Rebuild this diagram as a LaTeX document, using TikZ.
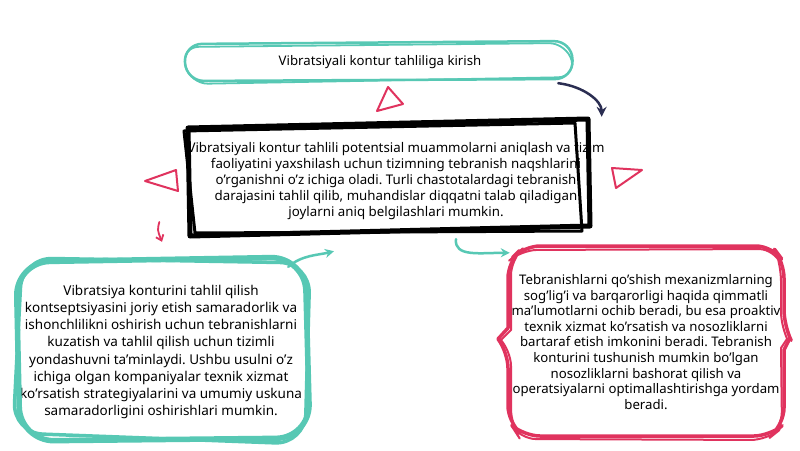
\documentclass[tikz,border=0pt]{standalone}
\usepackage{fontspec}
\setmainfont{Noto Sans}
\usetikzlibrary{arrows.meta}
\frenchspacing

\definecolor{seagreen}{HTML}{57C8B4}
\definecolor{crimsonpen}{HTML}{E0335E}
\definecolor{navyink}{HTML}{2B2E52}

\tikzset{
  boxtext/.style={inner sep=0pt, align=center, font=\fontsize{13.3}{16.2}\selectfont},
  tealpen/.style={draw=seagreen, line width=2.5pt, line join=round},
  tealfat/.style={draw=seagreen, line width=5.5pt, line join=round},
  redpen/.style={draw=crimsonpen, line width=3.5pt, line join=round},
  inkpen/.style={draw=black, line width=5pt, line join=round},
  mark tri/.style={draw=crimsonpen, line width=2pt, line join=round},
  tealarrow/.style={draw=seagreen, line width=2.5pt, line cap=round, -{Stealth[length=9pt,width=9pt]}},
}

\begin{document}
\begin{tikzpicture}[x=1pt,y=-1pt]

    % canvas
    \useasboundingbox (0,0) rectangle (800,450);
    \fill[white] (0,0) rectangle (800,450);

    % Text nodes
    \node[boxtext, minimum width=388pt, minimum height=38pt, font=\fontsize{13.2}{15}\selectfont] (intro) at (380,62)
        {Vibratsiyali kontur tahliliga kirish};
    \node[boxtext, minimum width=400pt, minimum height=112pt] (core) at (396,181)
        {Vibratsiyali kontur tahlili potentsial muammolarni aniqlash va tizim\\
         faoliyatini yaxshilash uchun tizimning tebranish naqshlarini\\
         o'rganishni o'z ichiga oladi. Turli chastotalardagi tebranish\\
         darajasini tahlil qilib, muhandislar diqqatni talab qiladigan\\
         joylarni aniq belgilashlari mumkin.};
    \node[boxtext, minimum width=294pt, minimum height=182pt, font=\fontsize{13.5}{17.1}\selectfont] (usage) at (161,352)
        {Vibratsiya konturini tahlil qilish\\
         kontseptsiyasini joriy etish samaradorlik va\\
         ishonchlilikni oshirish uchun tebranishlarni\\
         kuzatish va tahlil qilish uchun tizimli\\
         yondashuvni ta'minlaydi. Ushbu usulni o'z\\
         ichiga olgan kompaniyalar texnik xizmat\\
         ko'rsatish strategiyalarini va umumiy uskuna\\
         samaradorligini oshirishlari mumkin.};
    \node[boxtext, minimum width=276pt, minimum height=190pt, font=\fontsize{13.2}{15.6}\selectfont] (insight) at (646,342)
        {Tebranishlarni qo'shish mexanizmlarning\\
         sog'lig'i va barqarorligi haqida qimmatli\\
         ma'lumotlarni ochib beradi, bu esa proaktiv\\
         texnik xizmat ko'rsatish va nosozliklarni\\
         bartaraf etish imkonini beradi. Tebranish\\
         konturini tushunish mumkin bo'lgan\\
         nosozliklarni bashorat qilish va\\
         operatsiyalarni optimallashtirishga yordam\\
         beradi.};

    % Sketchy frames
    \draw[tealpen, rounded corners=18pt] (184,44) -- (572,41) -- (573,79) -- (186,81) -- cycle;
    \draw[tealpen, line width=1.8pt, rounded corners=18pt] (181,47) -- (567,43) -- (576,77) -- (190,84) -- cycle;

    \draw[inkpen] (188,128) -- (588,119) -- (590,226) -- (190,236) -- cycle;
    \draw[inkpen, line width=3pt] (184,131) -- (575,123) -- (582,231) -- (195,233) -- cycle;

    \draw[tealfat, rounded corners=34pt] (16,262) -- (305,257) -- (310,438) -- (20,441) -- cycle;
    \draw[tealfat, line width=3.5pt, rounded corners=30pt] (22,258) -- (310,263) -- (305,444) -- (13,433) -- cycle;

    \draw[redpen, rounded corners=16pt] (524,246) -- (772,246) -- (784,262) -- (784,326)
        [sharp corners] -- (790,338) -- (784,350) [rounded corners=16pt] -- (784,424) -- (770,436)
        -- (524,436) -- (508,422) -- (508,352) [sharp corners] -- (498,339) -- (508,328)
        [rounded corners=16pt] -- (508,262) -- cycle;
    \draw[redpen, line width=2pt, rounded corners=16pt] (521,250) -- (775,249) -- (781,265) -- (781,328)
        [sharp corners] -- (787,339) -- (781,348) [rounded corners=16pt] -- (782,428) -- (767,440)
        -- (520,439) -- (511,425) -- (511,350) [sharp corners] -- (501,340) -- (511,330)
        [rounded corners=16pt] -- (511,259) -- cycle;

    % Red triangles
    \draw[mark tri] (388,87) -- (377,111) -- (403,104) -- cycle;
    \draw[mark tri] (145,181) -- (176,170) -- (178,191) -- cycle;
    \draw[mark tri] (612,168) -- (642,170) -- (616,188) -- cycle;

    % Connectors
    \draw[navyink, line width=2.5pt, line cap=round, -{Stealth[length=10pt,width=10pt]}]
        ([xshift=-16pt,yshift=-2pt]intro.south east) .. controls +(25,3) and +(0,-16) .. ([xshift=-3pt,yshift=8pt]core.north east);
    \draw[tealarrow] ([xshift=-20pt,yshift=-6pt]usage.north east) .. controls +(14,-12) and +(-16,4) .. ([xshift=-62pt,yshift=-14pt]core.south);
    \draw[tealarrow] ([xshift=60pt,yshift=-2pt]core.south) .. controls +(-2,18) and +(-30,0) .. ([xshift=2pt,yshift=-6pt]insight.north west);
    \draw[crimsonpen, line width=1.8pt, line cap=round, -{Straight Barb[length=5pt,width=8pt]}]
        ([xshift=-28pt,yshift=-41pt]core.west) .. controls +(-2,8) .. ([xshift=1pt,yshift=19pt]usage.north);

\end{tikzpicture}
\end{document}
